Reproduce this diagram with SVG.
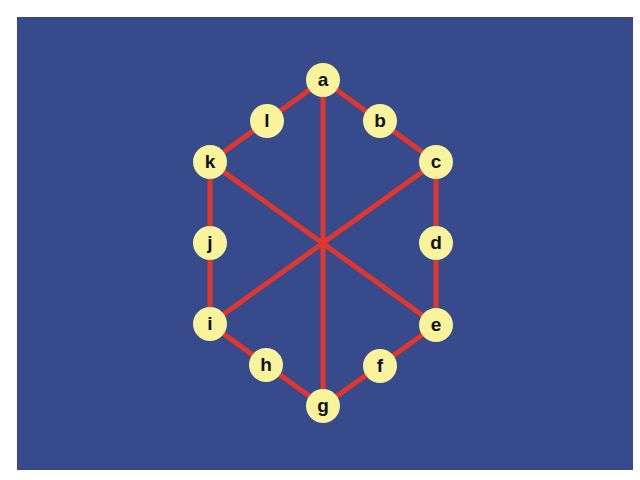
<svg xmlns="http://www.w3.org/2000/svg" width="640" height="480" viewBox="0 0 640 480">
<style>
.e{stroke:#e0362e;stroke-width:5;fill:none}
.n circle{fill:#f9f49c}
.n text{font-family:"Liberation Sans",Arial,sans-serif;font-weight:bold;font-size:19px;fill:#111;text-anchor:middle;dominant-baseline:central}
</style>
<rect x="0" y="0" width="640" height="480" fill="#ffffff"/>
<rect x="17" y="17" width="616" height="453" fill="#364a8c"/>
<g id="edges">
<line class="e" x1="323" y1="80" x2="436" y2="162"/>
<line class="e" x1="436" y1="162" x2="436" y2="325"/>
<line class="e" x1="436" y1="325" x2="323" y2="406"/>
<line class="e" x1="323" y1="406" x2="210" y2="324"/>
<line class="e" x1="210" y1="324" x2="210" y2="162"/>
<line class="e" x1="210" y1="162" x2="323" y2="80"/>
<line class="e" x1="323" y1="80" x2="323" y2="406"/>
<line class="e" x1="210" y1="162" x2="436" y2="325"/>
<line class="e" x1="436" y1="162" x2="210" y2="324"/>
</g>
<g id="a" class="n"><circle cx="323" cy="80" r="17"/><text x="323" y="79">a</text></g>
<g id="b" class="n"><circle cx="380" cy="121" r="17"/><text x="380" y="120">b</text></g>
<g id="c" class="n"><circle cx="436" cy="162" r="17"/><text x="436" y="161">c</text></g>
<g id="d" class="n"><circle cx="436" cy="243" r="17"/><text x="436" y="242">d</text></g>
<g id="e" class="n"><circle cx="436" cy="325" r="17"/><text x="436" y="324">e</text></g>
<g id="f" class="n"><circle cx="380" cy="366" r="17"/><text x="380" y="365">f</text></g>
<g id="g" class="n"><circle cx="323" cy="406" r="17"/><text x="323" y="405">g</text></g>
<g id="h" class="n"><circle cx="266" cy="365" r="17"/><text x="266" y="364">h</text></g>
<g id="i" class="n"><circle cx="210" cy="324" r="17"/><text x="210" y="323">i</text></g>
<g id="j" class="n"><circle cx="210" cy="243" r="17"/><text x="210" y="242">j</text></g>
<g id="k" class="n"><circle cx="210" cy="162" r="17"/><text x="210" y="161">k</text></g>
<g id="l" class="n"><circle cx="267" cy="121" r="17"/><text x="267" y="120">l</text></g>
</svg>
